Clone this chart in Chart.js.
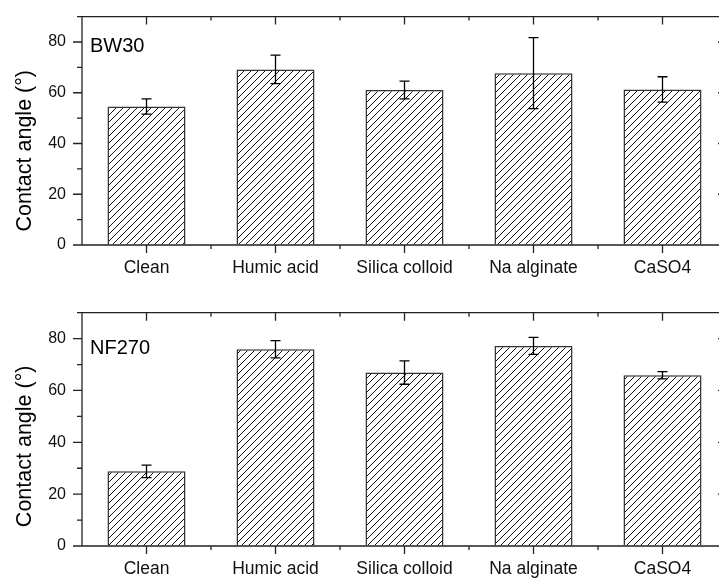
<!DOCTYPE html>
<html>
<head>
<meta charset="utf-8">
<script src="https://cdn.jsdelivr.net/npm/chart.js@4.4.0/dist/chart.umd.min.js"></script>
<style>
	html, body {margin: 0; padding: 0; background: #fff; overflow: hidden; width: 719px; height: 579px;}
	canvas {position: absolute; left: 0;}
	#chartTop {top: 0;}
	#chartBottom {top: 290px;}
</style>
</head>
<body>
<canvas id="chartTop" width="740" height="290"></canvas>
<canvas id="chartBottom" width="740" height="289"></canvas>
<script>
'use strict';

const categories = ['Clean', 'Humic acid', 'Silica colloid', 'Na alginate', 'CaSO4'];
const bw30Values = [54.6, 69.2, 61.1, 67.7, 61.3];
const bw30Errors = [3.0, 5.6, 3.5, 14.0, 5.0];
const nf270Values = [28.8, 75.9, 66.9, 77.2, 65.9];
const nf270Errors = [2.4, 3.3, 4.5, 3.3, 1.4];
const yTicks = [0, 20, 40, 60, 80];
const yMax = 90;
const yTitle = 'Contact angle (°)';

const FONT = '"Liberation Sans", Arial, Helvetica, sans-serif';
const INK = '#222';

/** Builds the diagonal hatch used to fill the bars. */
function makeHatch() {
	const size = 7;
	const tile = document.createElement('canvas');
	tile.width = size;
	tile.height = size;
	const g = tile.getContext('2d');
	g.fillStyle = '#fff';
	g.fillRect(0, 0, size, size);
	g.strokeStyle = '#111';
	g.lineWidth = 1;
	g.beginPath();
	g.moveTo(-1, size + 1); g.lineTo(size + 1, -1);
	g.moveTo(-1, 1); g.lineTo(1, -1);
	g.moveTo(size - 1, size + 1); g.lineTo(size + 1, size - 1);
	g.stroke();
	return g.createPattern(tile, 'repeat');
}

//frame with ticks on all four sides, origin style
const framePlugin = {
	id: 'frame',
	afterDatasetsDraw: (chart) => {
		const {ctx, chartArea: a, scales: {x, y}} = chart;
		const line = (x0, y0, x1, y1) => { ctx.moveTo(x0, y0); ctx.lineTo(x1, y1); };
		ctx.save();
		ctx.strokeStyle = INK;
		ctx.lineWidth = 1.3;
		ctx.beginPath();
		ctx.rect(a.left, a.top, a.right - a.left, a.bottom - a.top);
		//y major and minor ticks: outward on the left, inward on the right
		for (let i = 0; i < yTicks.length; ++i) {
			const py = y.getPixelForValue(yTicks[i]);
			line(a.left - 9, py, a.left, py);
			line(a.right, py, a.right - 9, py);
			const next = (i + 1 < yTicks.length) ? yTicks[i + 1] : yTicks[i] + (yTicks[1] - yTicks[0]);
			const mid = (yTicks[i] + next) / 2;
			if (mid <= yMax) {
				const pm = y.getPixelForValue(mid);
				line(a.left - 5, pm, a.left, pm);
				line(a.right, pm, a.right - 5, pm);
			}
		}
		//x major ticks at category centres, minor ones at category borders
		for (let i = 0; i < categories.length; ++i) {
			const px = x.getPixelForValue(i);
			line(px, a.bottom, px, a.bottom + 8);
			line(px, a.top, px, a.top + 8);
			if (i + 1 < categories.length) {
				const pb = (px + x.getPixelForValue(i + 1)) / 2;
				line(pb, a.bottom, pb, a.bottom + 4);
				line(pb, a.top, pb, a.top + 4);
			}
		}
		ctx.stroke();
		ctx.restore();
	}
};

const errorBarPlugin = {
	id: 'errorBars',
	afterDatasetsDraw: (chart, args, options) => {
		const {ctx, scales: {y}} = chart;
		const meta = chart.getDatasetMeta(0);
		const values = chart.data.datasets[0].data;
		ctx.save();
		ctx.strokeStyle = '#000';
		ctx.lineWidth = 1.3;
		ctx.beginPath();
		meta.data.forEach((bar, idx) => {
			const err = options.errors[idx];
			const top = y.getPixelForValue(values[idx] + err);
			const bottom = y.getPixelForValue(values[idx] - err);
			ctx.moveTo(bar.x, top); ctx.lineTo(bar.x, bottom);
			ctx.moveTo(bar.x - 5, top); ctx.lineTo(bar.x + 5, top);
			ctx.moveTo(bar.x - 5, bottom); ctx.lineTo(bar.x + 5, bottom);
		});
		ctx.stroke();
		ctx.restore();
	}
};

//panel name inside the plot plus the rotated y title
const labelPlugin = {
	id: 'panelText',
	afterDraw: (chart, args, options) => {
		const {ctx, chartArea: a} = chart;
		ctx.save();
		ctx.fillStyle = '#000';
		ctx.font = `20px ${FONT}`;
		ctx.textBaseline = 'alphabetic';
		ctx.textAlign = 'left';
		ctx.fillText(options.name, a.left + 8, a.top + options.nameDy);
		ctx.font = `21.5px ${FONT}`;
		ctx.translate(25, (a.top + a.bottom) / 2 + options.titleDy);
		ctx.rotate(-Math.PI / 2);
		ctx.textAlign = 'center';
		ctx.textBaseline = 'middle';
		ctx.fillText(yTitle, 0, 0);
		ctx.restore();
	}
};

function makeChart(canvas, panel) {
	return new Chart(canvas, {
		type: 'bar',
		data: {
			labels: categories,
			datasets: [{
				data: panel.values,
				backgroundColor: makeHatch(),
				borderColor: '#333',
				borderWidth: 1.5,
				barPercentage: 0.605,
				categoryPercentage: 1
			}]
		},
		options: {
			responsive: false,
			animation: false,
			devicePixelRatio: 1,
			layout: {
				padding: {top: panel.padTop, right: 13, bottom: 0, left: 0}
			},
			plugins: {
				legend: {display: false},
				tooltip: {enabled: false},
				errorBars: {errors: panel.errors},
				panelText: {name: panel.name, nameDy: panel.nameDy, titleDy: panel.titleDy}
			},
			scales: {
				x: {
					grid: {drawOnChartArea: false, drawTicks: true, tickLength: 9, color: 'transparent'},
					border: {display: false},
					ticks: {
						color: '#111',
						font: {family: FONT, size: 17.5},
						padding: 4,
						maxRotation: 0,
						autoSkip: false
					},
					afterFit: scale => { scale.height = panel.xAxisHeight; }
				},
				y: {
					min: 0,
					max: yMax,
					grid: {drawOnChartArea: false, drawTicks: true, tickLength: 9, color: 'transparent'},
					border: {display: false},
					ticks: {
						color: '#111',
						font: {family: FONT, size: 16},
						padding: 7
					},
					afterBuildTicks: scale => { scale.ticks = yTicks.map(v => ({value: v})); },
					afterFit: scale => { scale.width = 82; }
				}
			}
		},
		plugins: [framePlugin, errorBarPlugin, labelPlugin]
	});
}

makeChart(document.getElementById('chartTop'), {
	name: 'BW30', values: bw30Values, errors: bw30Errors,
	padTop: 13, xAxisHeight: 45, nameDy: 35, titleDy: 20
});
makeChart(document.getElementById('chartBottom'), {
	name: 'NF270', values: nf270Values, errors: nf270Errors,
	padTop: 22.7, xAxisHeight: 33, nameDy: 41, titleDy: 17
});
</script>
</body>
</html>
